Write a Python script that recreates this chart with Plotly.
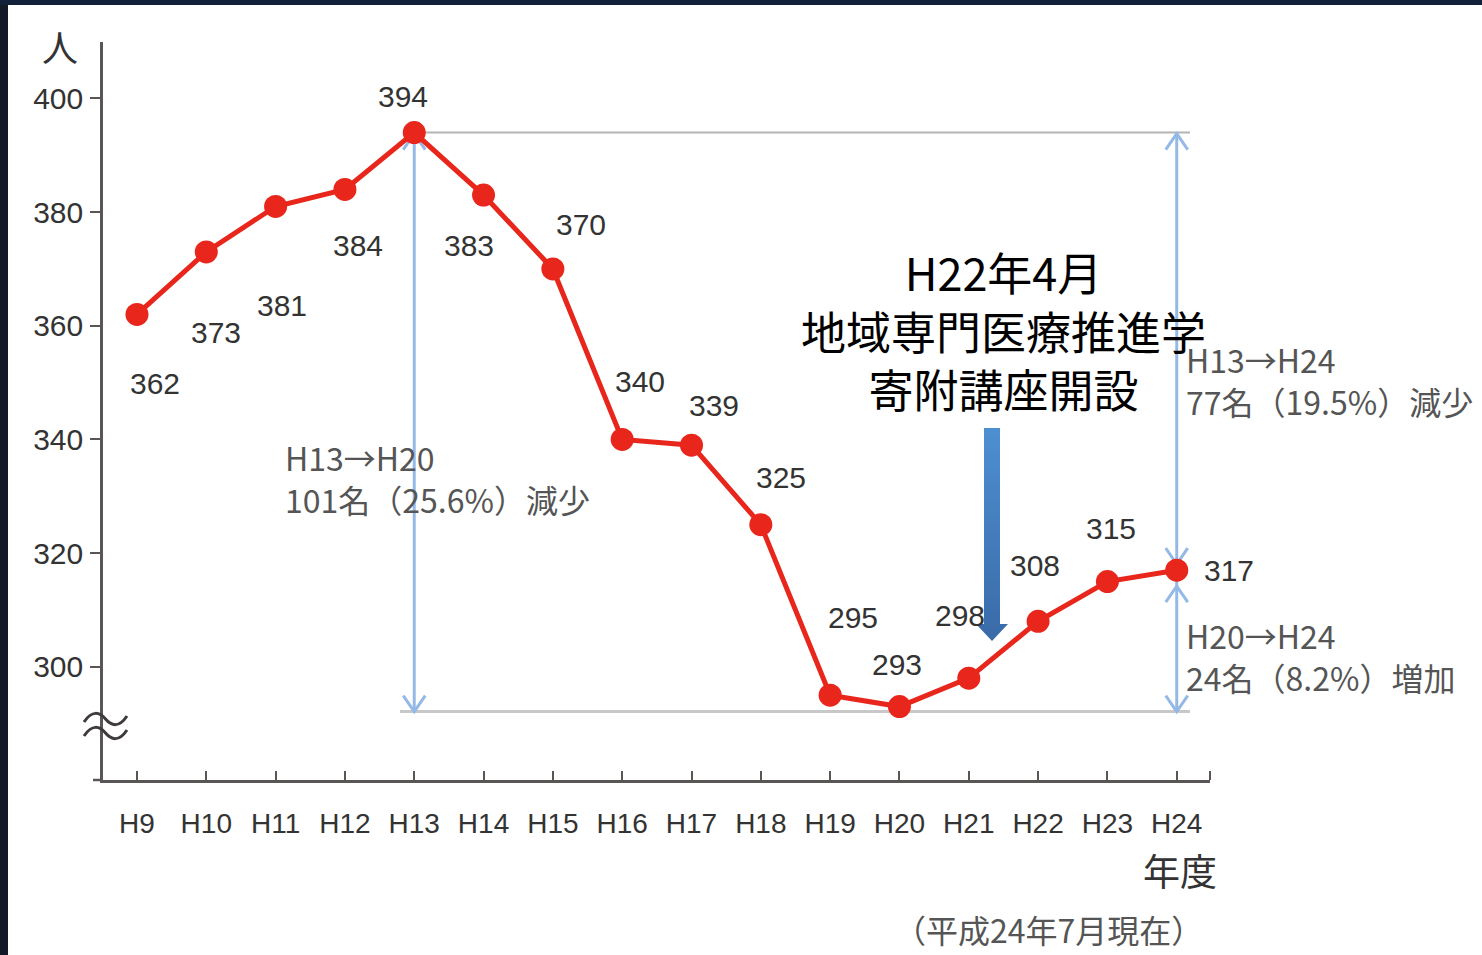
import plotly.graph_objects as go

# Fiscal years and headcount
years = ["H9", "H10", "H11", "H12", "H13", "H14", "H15", "H16",
         "H17", "H18", "H19", "H20", "H21", "H22", "H23", "H24"]
counts = [362, 373, 381, 384, 394, 383, 370, 340,
          339, 325, 295, 293, 298, 308, 315, 317]
y_ticks = [300, 320, 340, 360, 380, 400]

# label offsets (px) relative to each point
label_dx = [18, 10, 6, 13, -11, -15, 28, 18, 22, 20, 23, -2, -9, -3, 4, 52]
label_dy = [-69, -81, -99, -56, 36, -50, 44, 58, 40, 47, 78, 42, 63, 56, 53, 0]

W, H = 1482, 955
L, T, R, B = 103, 42, 272, 175
PW, PH = W - L - R, H - T - B
X0, X1 = -0.49, 15.48
Y0, Y1 = 280.08, 409.94


def px_x(i):
    return L + (i - X0) / (X1 - X0) * PW


def px_y(v):
    return T + (Y1 - v) / (Y1 - Y0) * PH


def dx(px):
    return (px - L) / PW * (X1 - X0) + X0


def dy(py):
    return Y1 - (py - T) / PH * (Y1 - Y0)


def fx(px):
    return (px - L) / PW


def fy(py):
    return 1 - (py - T) / PH


SANS = "Liberation Sans, Arial, sans-serif"
JP = "Noto Sans CJK JP, sans-serif"
AXIS = "#5a5656"
BLUE = "#95b9e6"
GRAY_LINE = "#b4b4b4"

i_max = counts.index(max(counts))
i_min = counts.index(min(counts))
i_last = len(counts) - 1
v_max, v_min, v_last = counts[i_max], counts[i_min], counts[i_last]

fig = go.Figure()

shapes = []

bottom_py = px_y(v_min) + 5

# reference levels
shapes.append(dict(type="line", xref="x", yref="y", x0=i_max, x1=dx(1190),
                   y0=v_max, y1=v_max, line=dict(color=GRAY_LINE, width=2), layer="below"))
shapes.append(dict(type="line", xref="x", yref="y", x0=dx(400), x1=dx(1190),
                   y0=dy(bottom_py), y1=dy(bottom_py),
                   line=dict(color="#c8c8c8", width=3), layer="below"))


def vline(i, top_py, bot_py):
    return dict(type="line", xref="x", yref="y", x0=i, x1=i,
                y0=dy(top_py), y1=dy(bot_py),
                line=dict(color=BLUE, width=3), layer="below")


def head(i, tip_py, up=True):
    px = px_x(i)
    s = 16 if up else -16
    path = (f"M {dx(px - 11)},{dy(tip_py + s)} L {dx(px)},{dy(tip_py)} "
            f"L {dx(px + 11)},{dy(tip_py + s)}")
    return dict(type="path", xref="x", yref="y", path=path,
                line=dict(color=BLUE, width=3), layer="below")


# H13 -> H20 span
shapes.append(vline(i_max, px_y(v_max), bottom_py))
shapes.append(head(i_max, px_y(v_max) + 1, True))
shapes.append(head(i_max, bottom_py, False))
# H13 -> H24 and H20 -> H24 spans
shapes.append(vline(i_last, px_y(v_max), bottom_py))
shapes.append(head(i_last, px_y(v_max) + 1, True))
shapes.append(head(i_last, px_y(v_last) - 6, False))
shapes.append(head(i_last, px_y(v_last) + 16, True))
shapes.append(head(i_last, bottom_py, False))

# x axis extension to the left and end tick
shapes.append(dict(type="line", xref="paper", yref="paper", x0=fx(93), x1=fx(103),
                   y0=0, y1=0, line=dict(color=AXIS, width=2.5)))
shapes.append(dict(type="line", xref="paper", yref="paper", x0=1, x1=1,
                   y0=0, y1=fy(780 - 9), line=dict(color=AXIS, width=2)))

# axis break mark
for yy in (719, 733):
    x_a, x_b = 84, 127
    xm = (x_a + x_b) / 2
    path = (f"M {fx(x_a)},{fy(yy + 3)} "
            f"C {fx(x_a + 8)},{fy(yy - 9)} {fx(xm - 6)},{fy(yy - 7)} {fx(xm)},{fy(yy)} "
            f"C {fx(xm + 6)},{fy(yy + 7)} {fx(x_b - 8)},{fy(yy + 9)} {fx(x_b)},{fy(yy - 3)}")
    shapes.append(dict(type="path", xref="paper", yref="paper", path=path,
                       line=dict(color="#3f3b3b", width=3)))

# dark frame at the edges of the page
shapes.append(dict(type="rect", xref="paper", yref="paper", x0=fx(0), x1=fx(8),
                   y0=fy(H), y1=fy(0), fillcolor="#121a28", line=dict(width=0)))
shapes.append(dict(type="rect", xref="paper", yref="paper", x0=fx(0), x1=fx(W),
                   y0=fy(5), y1=fy(0), fillcolor="#11213a", line=dict(width=0)))

# big blue arrow pointing at H22
ax_c = 992
arrow_px = [(ax_c - 8, 428), (ax_c + 8, 428), (ax_c + 8, 624), (ax_c + 16, 624),
            (ax_c, 641), (ax_c - 16, 624), (ax_c - 8, 624), (ax_c - 8, 428)]
fig.add_trace(go.Scatter(
    x=[dx(p[0]) for p in arrow_px], y=[dy(p[1]) for p in arrow_px],
    mode="lines", fill="toself", line=dict(width=0, color="#3f78b8"),
    fillgradient=dict(type="vertical",
                      colorscale=[[0, "#3a6aa8"], [1, "#4d8fd2"]]),
    hoverinfo="skip", showlegend=False))

# main series
fig.add_trace(go.Scatter(
    x=list(range(len(years))), y=counts, mode="lines+markers",
    line=dict(color="#e8261b", width=5),
    marker=dict(color="#e8261b", size=23),
    showlegend=False, hoverinfo="skip"))

annotations = []
for i, v in enumerate(counts):
    annotations.append(dict(x=i, y=v, xref="x", yref="y", text=str(v), showarrow=False,
                            xshift=label_dx[i], yshift=label_dy[i],
                            xanchor="center", yanchor="middle",
                            font=dict(family=SANS, size=30, color="#333333")))


def note(x, y, text, size, color, anchor="center", align="center"):
    return dict(xref="paper", yref="paper", x=fx(x), y=fy(y), text=text,
                showarrow=False, xanchor=anchor, yanchor="middle", align=align,
                font=dict(family=JP, size=size, color=color))


annotations += [
    note(60, 46, "人", 36, "#333333"),
    note(1003, 330, "H22年4月<br>地域専門医療推進学<br>寄附講座開設", 45, "#000000"),
    note(283, 478, "H13→H20<br>101名（25.6%）減少", 32, "#555555", "left", "left"),
    note(1184, 380, "H13→H24<br>77名（19.5%）減少", 32, "#555555", "left", "left"),
    note(1184, 656, "H20→H24<br>24名（8.2%）増加", 32, "#555555", "left", "left"),
    note(1180, 870, "年度", 37, "#333333"),
    note(1048, 929, "（平成24年7月現在）", 32, "#555555"),
]

fig.update_layout(
    width=W, height=H,
    margin=dict(l=L, r=R, t=T, b=B, pad=0),
    paper_bgcolor="white", plot_bgcolor="white",
    shapes=shapes, annotations=annotations,
    xaxis=dict(range=[X0, X1], tickvals=list(range(len(years))), ticktext=years,
               showgrid=False, zeroline=False, showline=True, linecolor=AXIS, linewidth=2.5,
               ticks="inside", ticklen=9, tickwidth=2, tickcolor=AXIS,
               ticklabelstandoff=17,
               tickfont=dict(family=SANS, size=28, color="#333333")),
    yaxis=dict(range=[Y0, Y1], tickvals=y_ticks, showgrid=False, zeroline=False,
               showline=True, linecolor=AXIS, linewidth=2.5,
               ticks="outside", ticklen=10, tickwidth=2, tickcolor=AXIS,
               ticklabelstandoff=1,
               tickfont=dict(family=SANS, size=30, color="#333333")),
)

fig.write_html("out.html")
